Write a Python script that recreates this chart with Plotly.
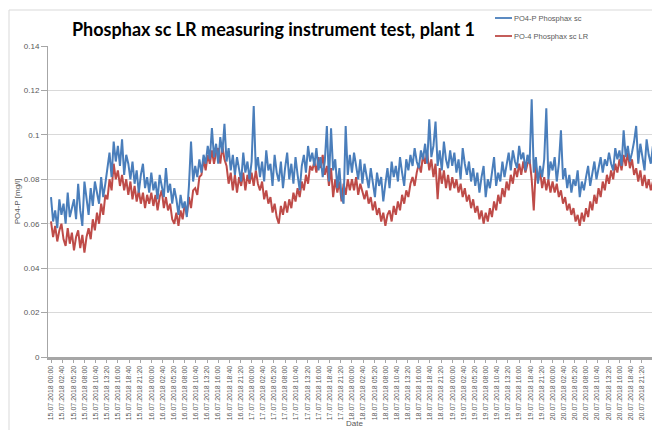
import pandas as pd
import plotly.graph_objects as go

# PO4-P Phosphax sc (blue), values every 30 min, mg/l
blue_15 = [0.072, 0.061, 0.066, 0.058, 0.071, 0.064, 0.069, 0.060,
           0.074, 0.063, 0.067, 0.071, 0.062, 0.078, 0.066, 0.059,
           0.079, 0.070, 0.064, 0.076, 0.068, 0.079, 0.073, 0.069,
           0.081, 0.072, 0.078, 0.084, 0.092, 0.081, 0.097, 0.088,
           0.095, 0.086, 0.098, 0.082, 0.091, 0.087, 0.080, 0.088,
           0.078, 0.084, 0.074, 0.082, 0.087, 0.076, 0.081, 0.074]
blue_16 = [0.083, 0.075, 0.079, 0.071, 0.082, 0.077, 0.072, 0.085,
           0.074, 0.078, 0.069, 0.076, 0.071, 0.064, 0.073, 0.067,
           0.070, 0.063, 0.077, 0.097, 0.079, 0.086, 0.081, 0.089,
           0.083, 0.091, 0.087, 0.095, 0.089, 0.103, 0.090, 0.096,
           0.087, 0.099, 0.092, 0.105, 0.088, 0.094, 0.084, 0.091,
           0.082, 0.090, 0.085, 0.079, 0.092, 0.083, 0.088, 0.080]
blue_17 = [0.088, 0.113, 0.084, 0.090, 0.081, 0.088, 0.079, 0.093,
           0.084, 0.087, 0.077, 0.091, 0.083, 0.079, 0.088, 0.076,
           0.085, 0.092, 0.080, 0.087, 0.078, 0.090, 0.082, 0.075,
           0.086, 0.091, 0.083, 0.095, 0.088, 0.092, 0.086, 0.094,
           0.084, 0.090, 0.081, 0.088, 0.104, 0.079, 0.103, 0.084,
           0.089, 0.076, 0.085, 0.072, 0.069, 0.104, 0.082, 0.091]
blue_18 = [0.083, 0.092, 0.086, 0.080, 0.089, 0.078, 0.087, 0.082,
           0.076, 0.085, 0.079, 0.072, 0.083, 0.077, 0.081, 0.070,
           0.078, 0.085, 0.076, 0.088, 0.081, 0.086, 0.079, 0.090,
           0.083, 0.077, 0.089, 0.084, 0.091, 0.086, 0.094, 0.088,
           0.085, 0.093, 0.089, 0.096, 0.087, 0.107, 0.090, 0.095,
           0.106, 0.086, 0.093, 0.084, 0.097, 0.089, 0.085, 0.093]
blue_19 = [0.086, 0.092, 0.083, 0.089, 0.080, 0.094, 0.087, 0.082,
           0.088, 0.079, 0.085, 0.077, 0.083, 0.074, 0.081, 0.086,
           0.072, 0.080, 0.076, 0.084, 0.090, 0.077, 0.083, 0.079,
           0.088, 0.081, 0.086, 0.092, 0.084, 0.093, 0.088, 0.085,
           0.095, 0.089, 0.092, 0.084, 0.091, 0.087, 0.116, 0.083,
           0.090, 0.078, 0.086, 0.081, 0.089, 0.112, 0.080, 0.088]
blue_20 = [0.084, 0.090, 0.079, 0.087, 0.102, 0.080, 0.085, 0.076,
           0.082, 0.074, 0.080, 0.077, 0.084, 0.072, 0.079, 0.075,
           0.081, 0.086, 0.077, 0.083, 0.088, 0.080, 0.085, 0.090,
           0.083, 0.089, 0.086, 0.092, 0.087, 0.084, 0.094, 0.089,
           0.093, 0.086, 0.102, 0.090, 0.095, 0.088, 0.092, 0.097,
           0.104, 0.087, 0.096, 0.090, 0.084, 0.098, 0.091, 0.087]
blue_21 = [0.095, 0.086, 0.092, 0.089]

# PO-4 Phosphax sc LR (red), values every 30 min, mg/l
red_15 = [0.061, 0.054, 0.059, 0.052, 0.057, 0.060, 0.053, 0.050,
          0.058, 0.051, 0.056, 0.048, 0.054, 0.057, 0.049, 0.055,
          0.047, 0.054, 0.058, 0.053, 0.062, 0.057, 0.065, 0.060,
          0.069, 0.064, 0.073, 0.071, 0.080, 0.075, 0.087, 0.080,
          0.084, 0.077, 0.082, 0.075, 0.080, 0.073, 0.079, 0.071,
          0.077, 0.070, 0.075, 0.069, 0.074, 0.067, 0.073, 0.069]
red_16 = [0.074, 0.068, 0.073, 0.066, 0.072, 0.075, 0.067, 0.072,
          0.066, 0.069, 0.062, 0.060, 0.065, 0.059, 0.066, 0.062,
          0.069, 0.064, 0.072, 0.067, 0.075, 0.076, 0.073, 0.081,
          0.082, 0.089, 0.084, 0.091, 0.087, 0.093, 0.087, 0.092,
          0.094, 0.087, 0.095, 0.089, 0.086, 0.078, 0.083, 0.075,
          0.082, 0.074, 0.081, 0.077, 0.083, 0.075, 0.082, 0.078]
red_17 = [0.083, 0.077, 0.084, 0.078, 0.075, 0.079, 0.071, 0.075,
          0.069, 0.072, 0.065, 0.069, 0.063, 0.060, 0.068, 0.064,
          0.070, 0.065, 0.071, 0.067, 0.074, 0.070, 0.076, 0.072,
          0.079, 0.075, 0.082, 0.078, 0.086, 0.084, 0.088, 0.083,
          0.090, 0.085, 0.091, 0.082, 0.086, 0.077, 0.085, 0.072,
          0.080, 0.074, 0.079, 0.070, 0.078, 0.073, 0.080, 0.075]
red_18 = [0.080, 0.075, 0.081, 0.073, 0.078, 0.074, 0.071, 0.075,
          0.069, 0.072, 0.066, 0.070, 0.064, 0.067, 0.061, 0.065,
          0.059, 0.064, 0.066, 0.061, 0.068, 0.064, 0.070, 0.066,
          0.073, 0.069, 0.075, 0.072, 0.078, 0.081, 0.077, 0.083,
          0.087, 0.083, 0.091, 0.087, 0.092, 0.084, 0.089, 0.081,
          0.087, 0.071, 0.085, 0.078, 0.084, 0.076, 0.082, 0.075]
red_19 = [0.081, 0.076, 0.080, 0.074, 0.078, 0.072, 0.076, 0.070,
          0.073, 0.067, 0.071, 0.065, 0.068, 0.062, 0.066, 0.060,
          0.065, 0.061, 0.067, 0.063, 0.070, 0.066, 0.073, 0.069,
          0.076, 0.072, 0.079, 0.075, 0.082, 0.078, 0.085, 0.081,
          0.087, 0.082, 0.088, 0.083, 0.087, 0.089, 0.080, 0.066,
          0.086, 0.079, 0.084, 0.076, 0.081, 0.075, 0.080, 0.074]
red_20 = [0.079, 0.074, 0.078, 0.072, 0.075, 0.069, 0.072, 0.066,
          0.069, 0.064, 0.067, 0.061, 0.064, 0.059, 0.065, 0.061,
          0.067, 0.063, 0.070, 0.066, 0.073, 0.069, 0.076, 0.072,
          0.079, 0.075, 0.082, 0.078, 0.084, 0.080, 0.087, 0.083,
          0.089, 0.084, 0.091, 0.086, 0.092, 0.085, 0.089, 0.082,
          0.085, 0.079, 0.084, 0.077, 0.082, 0.076, 0.080, 0.075]
red_21 = [0.079, 0.073, 0.078, 0.072]

blue = blue_15 + blue_16 + blue_17 + blue_18 + blue_19 + blue_20 + blue_21
red = red_15 + red_16 + red_17 + red_18 + red_19 + red_20 + red_21

series_names = ["PO4-P Phosphax sc", "PO-4 Phosphax sc LR"]
y_ticks = [0, 0.02, 0.04, 0.06, 0.08, 0.1, 0.12, 0.14]
y_tick_labels = ["0", "0.02", "0.04", "0.06", "0.08", "0.1", "0.12", "0.14"]

times = pd.date_range("2018-07-15 00:00", periods=len(blue), freq="30min")
tick_times = pd.date_range("2018-07-15 00:00", "2018-07-20 21:20", freq="160min")
tick_labels = [t.strftime("%d.%m.%Y %H:%M") for t in tick_times]

BLUE = "#4a7ebb"
RED = "#be4b48"
GRID = "#d9d9d9"
AXIS = "#a6a6a6"
TXT = "#595959"

fig = go.Figure()
fig.add_trace(go.Scatter(x=times, y=red, mode="lines", name=series_names[1],
                         line=dict(color=RED, width=2), showlegend=False))
fig.add_trace(go.Scatter(x=times, y=blue, mode="lines", name=series_names[0],
                         line=dict(color=BLUE, width=2), showlegend=False))

x0 = pd.Timestamp("2018-07-15 00:00") - pd.Timedelta(minutes=43)
x1 = pd.Timestamp("2018-07-21 01:42")

# the page body has an 8px margin, so the figure starts at page (8, 8)
OFF = 8
W, H = 660 - OFF, 430 - OFF
PL, PT, PB = 48, 46, 357          # plot area edges in page pixels
L, T, B = PL - OFF, PT - OFF, H - (PB - OFF)
PW, PH = 660 - PL, PB - PT


def px_x(x):
    return (x - PL) / PW


def px_y(y):
    return (PB - y) / PH


fig.update_layout(
    width=W, height=H,
    margin=dict(l=L, r=0, t=T, b=B, pad=0),
    paper_bgcolor="white", plot_bgcolor="white",
    font=dict(family="Liberation Sans, Arial, sans-serif", size=8, color=TXT),
    title=dict(text="<b>Phosphax sc LR measuring instrument test, plant 1</b>",
               font=dict(family="Lato, Open Sans, sans-serif", size=18, color="black"),
               x=(72 - OFF) / W, xanchor="left", xref="container",
               y=1 - (30 - OFF) / H, yanchor="middle", yref="container"),
    showlegend=False,
    xaxis=dict(type="date", range=[x0, x1], tickmode="array",
               tickvals=tick_times, ticktext=tick_labels, tickangle=-90,
               tickfont=dict(size=7, color=TXT), showgrid=False,
               showline=True, linecolor=AXIS, linewidth=3,
               ticks="outside", ticklen=3, tickcolor=AXIS,
               zeroline=False, automargin=False),
    yaxis=dict(range=[0, 0.14], tickmode="array", tickvals=y_ticks,
               ticktext=y_tick_labels,
               showgrid=True, gridcolor=GRID, gridwidth=1,
               showline=True, linecolor=AXIS, linewidth=1,
               ticks="outside", ticklen=6, tickcolor=AXIS,
               tickfont=dict(size=8, color=TXT),
               title=dict(text="PO4-P [mg/l]", font=dict(size=8, color=TXT), standoff=2),
               zeroline=False, automargin=False),
)

# chart frame
fig.add_shape(type="rect", xref="paper", yref="paper",
              x0=px_x(9), x1=px_x(670), y0=px_y(445), y1=px_y(10),
              line=dict(color=GRID, width=1), fillcolor="rgba(0,0,0,0)", layer="below")

# legend (line samples + labels)
for name, col, yy in [(series_names[0], BLUE, 18), (series_names[1], RED, 36)]:
    fig.add_shape(type="line", xref="paper", yref="paper",
                  x0=px_x(495), x1=px_x(512), y0=px_y(yy), y1=px_y(yy),
                  line=dict(color=col, width=1.8))
    fig.add_annotation(text=name, xref="paper", yref="paper",
                       x=px_x(512), y=px_y(yy), xanchor="left", yanchor="middle",
                       showarrow=False, font=dict(size=7.5, color=TXT))

# x axis title (mostly hidden under the tick labels in the original)
fig.add_annotation(text="Date", xref="paper", yref="paper",
                   x=px_x(354), y=px_y(423), xanchor="center", yanchor="middle",
                   showarrow=False, font=dict(size=8, color=TXT))

fig.write_html("out.html")
